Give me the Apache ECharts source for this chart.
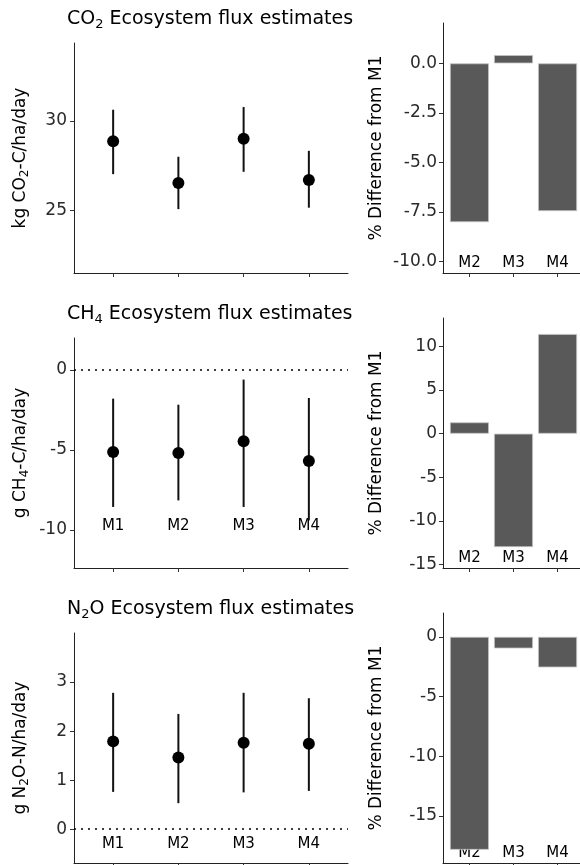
<!DOCTYPE html>
<html>
<head>
<meta charset="utf-8">
<script src="https://cdn.jsdelivr.net/npm/echarts@6/dist/echarts.min.js"></script>
<style>
  html, body { margin: 0; padding: 0; background: #fff; }
  #chart { width: 580px; height: 865px; }
</style>
</head>
<body>
<div id="chart"></div>
<script>
  // categories
  const models = ['M1', 'M2', 'M3', 'M4']
  const diffModels = ['M2', 'M3', 'M4']

  // CO2 ecosystem flux (kg CO2-C/ha/day)
  const co2Mean = [28.87, 26.54, 29.01, 26.71]
  const co2Low = [27.04, 25.09, 27.17, 25.17]
  const co2High = [30.63, 28.01, 30.78, 28.34]
  const co2Diff = [-8.02, 0.42, -7.46]

  // CH4 ecosystem flux (g CH4-C/ha/day)
  const ch4Mean = [-5.13, -5.19, -4.46, -5.69]
  const ch4Low = [-8.56, -8.15, -8.56, -9.4]
  const ch4High = [-1.79, -2.17, -0.6, -1.75]
  const ch4Diff = [1.3, -12.98, 11.42]

  // N2O ecosystem flux (g N2O-N/ha/day)
  const n2oMean = [1.79, 1.46, 1.76, 1.74]
  const n2oLow = [0.76, 0.53, 0.75, 0.78]
  const n2oHigh = [2.78, 2.35, 2.78, 2.67]
  const n2oDiff = [-17.85, -0.97, -2.56]

  // tick labels
  const co2Ticks = [25, 30]
  const co2DiffTicks = [-10, -7.5, -5, -2.5, 0]
  const ch4Ticks = [-10, -5, 0]
  const ch4DiffTicks = [-15, -10, -5, 0, 5, 10]
  const n2oTicks = [0, 1, 2, 3]
  const n2oDiffTicks = [-15, -10, -5, 0]

  const FONT = 'DejaVu Sans'

  const rows = [
    {
      gas: 'CO', sub: '2', unit: ['kg CO', '2', '-C/ha/day'],
      mean: co2Mean, low: co2Low, high: co2High, ticks: co2Ticks,
      min: 21.53, max: 34.35, zero: false, labelMargin: null,
      diff: co2Diff, diffTicks: co2DiffTicks, dmin: -10.59, dmax: 2.04, decimals: 1,
      titleTop: 8, top: 43, rtop: 23
    },
    {
      gas: 'CH', sub: '4', unit: ['g CH', '4', '-C/ha/day'],
      mean: ch4Mean, low: ch4Low, high: ch4High, ticks: ch4Ticks,
      min: -12.375, max: 2.0, zero: true, labelMargin: 34,
      diff: ch4Diff, diffTicks: ch4DiffTicks, dmin: -15.38, dmax: 13.25, decimals: 0,
      titleTop: 303, top: 338, rtop: 318
    },
    {
      gas: 'N', sub: '2', after: 'O', unit: ['g N', '2', 'O-N/ha/day'],
      mean: n2oMean, low: n2oLow, high: n2oHigh, ticks: n2oTicks,
      min: -0.69, max: 4.0, zero: true, labelMargin: 11,
      diff: n2oDiff, diffTicks: n2oDiffTicks, dmin: -18.96, dmax: 2.0, decimals: 0,
      titleTop: 598, top: 633, rtop: 613
    }
  ]

  const titleRich = {
    n: { fontFamily: FONT, fontSize: 19, fontWeight: 'normal', color: '#000', lineHeight: 23 },
    s: { fontFamily: FONT, fontSize: 13, fontWeight: 'normal', color: '#000', lineHeight: 13, verticalAlign: 'bottom' }
  }
  const nameRich = {
    n: { fontFamily: FONT, fontSize: 17, color: '#000', lineHeight: 21 },
    s: { fontFamily: FONT, fontSize: 12, color: '#000', lineHeight: 12, verticalAlign: 'bottom' }
  }

  const axisLine = { show: true, onZero: false, lineStyle: { color: '#222', width: 1 } }
  const tickStyle = { color: '#333', width: 1 }

  let title = [], grid = [], xAxis = [], yAxis = [], series = []

  rows.forEach((r, k) => {
    const li = k * 2, ri = k * 2 + 1
    title.push({
      text: '{n|' + r.gas + '}{s|' + r.sub + '}{n|' + (r.after || '') + ' Ecosystem flux estimates}',
      left: 67, top: r.titleTop, padding: 0,
      textStyle: { fontWeight: 'normal', rich: titleRich }
    })

    // left panel: means with error bars
    grid.push({ left: 74, width: 274, top: r.top, height: 230, outerBoundsMode: 'none' })
    xAxis.push({
      gridIndex: li, type: 'value', min: 0.4, max: 4.6,
      axisLine: axisLine,
      axisTick: { show: true, length: 4, customValues: [1, 2, 3, 4], lineStyle: tickStyle },
      axisLabel: {
        show: r.labelMargin !== null, inside: true, margin: r.labelMargin || 0,
        customValues: [1, 2, 3, 4], formatter: v => models[v - 1],
        fontFamily: FONT, fontSize: 15, color: '#000'
      },
      splitLine: { show: false }
    })
    yAxis.push({
      gridIndex: li, type: 'value', min: r.min, max: r.max,
      axisLine: axisLine,
      axisTick: { show: true, length: 4, customValues: r.ticks, lineStyle: tickStyle },
      axisLabel: { customValues: r.ticks, margin: 7, fontFamily: FONT, fontSize: 17, color: '#2a2a2a' },
      splitLine: { show: false },
      name: '{n|' + r.unit[0] + '}{s|' + r.unit[1] + '}{n|' + r.unit[2] + '}',
      nameLocation: 'middle', nameRotate: 90, nameGap: 43,
      nameTextStyle: { rich: nameRich }
    })
    series.push({
      type: 'custom', xAxisIndex: li, yAxisIndex: li,
      data: models.map((m, i) => [i + 1, r.low[i], r.high[i]]),
      encode: { x: 0, y: [1, 2] },
      renderItem: (params, api) => {
        const a = api.coord([api.value(0), api.value(1)])
        const b = api.coord([api.value(0), api.value(2)])
        return {
          type: 'line',
          shape: { x1: a[0], y1: a[1], x2: b[0], y2: b[1] },
          style: { stroke: '#111', lineWidth: 2 }
        }
      },
      z: 2
    })
    const scatter = {
      type: 'scatter', xAxisIndex: li, yAxisIndex: li,
      data: models.map((m, i) => [i + 1, r.mean[i]]),
      symbolSize: 12, itemStyle: { color: '#000', opacity: 1 }, z: 3
    }
    if (r.zero) {
      scatter.markLine = {
        silent: true, symbol: ['none', 'none'], label: { show: false },
        lineStyle: { type: [2, 5], color: '#000', width: 1.5, opacity: 1 },
        data: [{ yAxis: 0 }]
      }
    }
    series.push(scatter)

    // right panel: % difference from M1
    grid.push({ left: 443, width: 141, top: r.rtop, height: 250, outerBoundsMode: 'none' })
    xAxis.push({
      gridIndex: ri, type: 'value', min: 0.4, max: 3.6,
      axisLine: axisLine,
      axisTick: { show: true, length: 4, customValues: [1, 2, 3], lineStyle: tickStyle },
      axisLabel: {
        inside: true, margin: 2, customValues: [1, 2, 3], formatter: v => diffModels[v - 1],
        fontFamily: FONT, fontSize: 15, color: '#000'
      },
      splitLine: { show: false }
    })
    yAxis.push({
      gridIndex: ri, type: 'value', min: r.dmin, max: r.dmax,
      axisLine: axisLine,
      axisTick: { show: true, length: 4, customValues: r.diffTicks, lineStyle: tickStyle },
      axisLabel: {
        customValues: r.diffTicks, margin: 6, formatter: v => v.toFixed(r.decimals),
        fontFamily: FONT, fontSize: 17, color: '#2a2a2a'
      },
      splitLine: { show: false },
      name: '% Difference from M1',
      nameLocation: 'middle', nameRotate: 90, nameGap: 58,
      nameTextStyle: { fontFamily: FONT, fontSize: 17, color: '#000' }
    })
    series.push({
      type: 'bar', xAxisIndex: ri, yAxisIndex: ri,
      data: r.diff.map((v, i) => [i + 1, v]),
      barWidth: 39,
      itemStyle: { color: '#595959', borderColor: '#c4c4c4', borderWidth: 0.8 }
    })
  })

  const chart = echarts.init(document.getElementById('chart'))
  chart.setOption({
    animation: false,
    backgroundColor: '#fff',
    title: title,
    grid: grid,
    xAxis: xAxis,
    yAxis: yAxis,
    series: series
  })
</script>
</body>
</html>
